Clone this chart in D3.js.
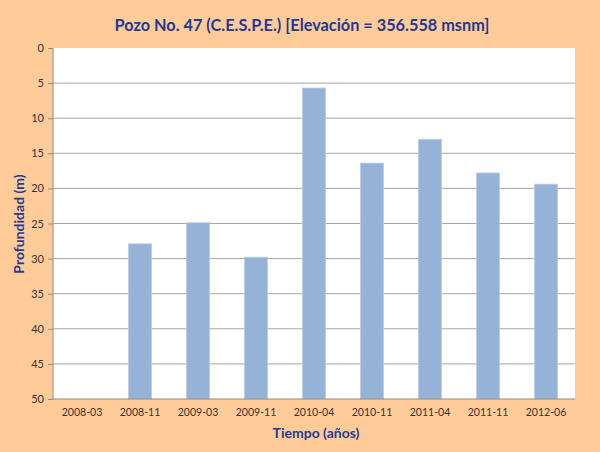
<!DOCTYPE html>
<html><head><meta charset="utf-8">
<script src="https://cdn.jsdelivr.net/npm/d3@7"></script>
<style>body{margin:0;background:#FFCC99;}svg{display:block;}</style>
</head><body>
<svg id="c" width="600" height="452"></svg>
<script>
const categories = ["2008-03","2008-11","2009-03","2009-11","2010-04","2010-11","2011-04","2011-11","2012-06"];
const depths = [null, 27.9, 24.9, 29.8, 5.7, 16.4, 13.0, 17.8, 19.4];
const yTicks = [0,5,10,15,20,25,30,35,40,45,50];

const svg = d3.select("#c");
const m = {l:53, r:575, t:48, b:399};
svg.append("rect").attr("width",600).attr("height",452).attr("fill","#FFCC99");
svg.append("rect").attr("x",m.l).attr("y",m.t).attr("width",m.r-m.l).attr("height",m.b-m.t).attr("fill","#fff");

const x = d3.scaleBand().domain(categories).range([m.l,m.r]).paddingInner(0.6).paddingOuter(0.3);
const y = d3.scaleLinear().domain([0,50]).range([m.t,m.b]);

// gridlines
svg.append("g").selectAll("line").data(yTicks.filter(t=>t>0 && t<50)).join("line")
  .attr("x1",m.l).attr("x2",m.r).attr("y1",d=>y(d)).attr("y2",d=>y(d))
  .attr("stroke","#A6A6A6").attr("stroke-width",1);

// bars
svg.append("g").selectAll("rect").data(categories.map((c,i)=>({c,v:depths[i]})).filter(d=>d.v!=null)).join("rect")
  .attr("x",d=>x(d.c)).attr("width",x.bandwidth())
  .attr("y",d=>y(d.v)).attr("height",d=>y(50)-y(d.v))
  .attr("fill","#95B3D7").attr("stroke","#B9CDE5").attr("stroke-width",0.8);

// y axis
const ya = svg.append("g").attr("transform",`translate(${m.l},0)`)
  .call(d3.axisLeft(y).tickValues(yTicks).tickSize(5).tickPadding(4));
ya.select(".domain").attr("stroke","#8C8C8C").attr("d",`M0,${m.t}V${m.b}`);
ya.selectAll(".tick line").attr("stroke","#8C8C8C");
ya.selectAll("text").attr("fill","#333").style("font-family","Lato, 'Open Sans', sans-serif").style("font-size","11px");

// x axis
const xa = svg.append("g").attr("transform",`translate(0,${m.b})`)
  .call(d3.axisBottom(x).tickSize(0).tickPadding(10));
xa.select(".domain").attr("stroke","#8C8C8C").attr("d",`M${m.l},0H${m.r}`);
xa.selectAll("text").attr("fill","#333").style("font-family","Lato, 'Open Sans', sans-serif").style("font-size","10.5px");

// titles
svg.append("text").attr("x",302).attr("y",31).attr("text-anchor","middle")
  .attr("fill","#1F3A93").style("font-family","Lato, 'Open Sans', sans-serif").style("font-weight","bold").style("font-size","16.3px")
  .text("Pozo No. 47 (C.E.S.P.E.) [Elevación = 356.558 msnm]");
svg.append("text").attr("x",316).attr("y",438).attr("text-anchor","middle")
  .attr("fill","#1F3A93").style("font-family","Lato, 'Open Sans', sans-serif").style("font-weight","bold").style("font-size","14px")
  .text("Tiempo (años)");
svg.append("text").attr("transform","translate(24,224) rotate(-90)").attr("text-anchor","middle")
  .attr("fill","#1F3A93").style("font-family","Lato, 'Open Sans', sans-serif").style("font-weight","bold").style("font-size","14px")
  .text("Profundidad (m)");
</script>
</body></html>
